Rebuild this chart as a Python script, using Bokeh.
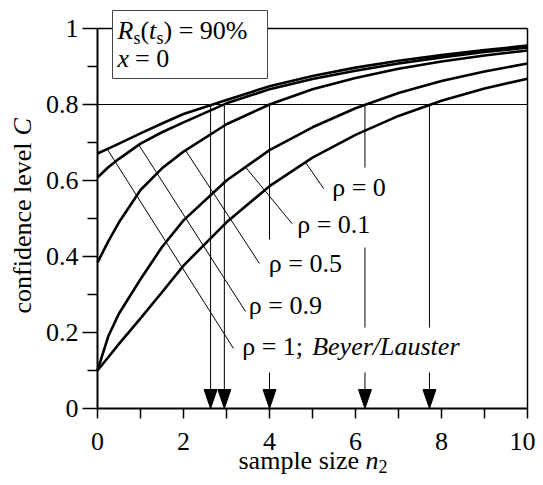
import numpy as np
from math import pi
from bokeh.plotting import figure
from bokeh.models import Range1d, FixedTicker, LinearAxis
from bokeh.embed import file_html
from bokeh.resources import INLINE
from bokeh.core.properties import value

# ---------------- data ----------------
n2 = [0, 0.25, 0.5, 1, 1.5, 2, 3, 4, 5, 6, 7, 8, 9, 10]
C_rho_1 = [0.671, 0.684, 0.697, 0.724, 0.750, 0.775, 0.812, 0.848, 0.875, 0.897, 0.915, 0.930, 0.943, 0.955]
C_rho_09 = [0.608, 0.635, 0.657, 0.697, 0.727, 0.753, 0.803, 0.840, 0.867, 0.889, 0.908, 0.924, 0.938, 0.950]
C_rho_05 = [0.384, 0.440, 0.490, 0.575, 0.632, 0.676, 0.748, 0.800, 0.840, 0.870, 0.894, 0.913, 0.929, 0.942]
C_rho_01 = [0.100, 0.190, 0.250, 0.340, 0.425, 0.495, 0.600, 0.680, 0.740, 0.790, 0.830, 0.862, 0.887, 0.908]
C_rho_0 = [0.100, 0.135, 0.170, 0.237, 0.306, 0.376, 0.490, 0.585, 0.660, 0.720, 0.770, 0.810, 0.842, 0.868]

C_target = 0.8
n2_required = [2.63, 2.95, 4.0, 6.22, 7.72]   # where the curves reach C = 0.8

curve_labels = ["ρ = 1;", "ρ = 0.9", "ρ = 0.5", "ρ = 0.1", "ρ = 0"]
x_ticks = [0, 2, 4, 6, 8, 10]
x_minor_ticks = [1, 3, 5, 7, 9]
y_ticks = [0, 0.2, 0.4, 0.6, 0.8, 1]
y_tick_labels = ["0", "0.2", "0.4", "0.6", "0.8", "1"]
y_minor_ticks = [0.1, 0.3, 0.5, 0.7, 0.9]

curves = [C_rho_1, C_rho_09, C_rho_05, C_rho_01, C_rho_0]

# ---------------- layout helpers (pixel positions of annotations) ----------------
X0, XS = 97.0, 43.0    # px of n2 = 0, px per unit
Y0, YS = 408.0, 380.0  # px of C = 0, px per unit
def X(px):
    return (px - X0) / XS
def Y(py):
    return (Y0 - py) / YS

FONT = "Liberation Serif"
FS = "26px"
FS_SUB = "18px"

W, H = 535, 477
p = figure(width=W, height=H, output_backend="svg", toolbar_location=None,
           x_range=Range1d(X(0), X(W)), y_range=Range1d(Y(H), Y(0)),
           min_border_left=0, min_border_right=0, min_border_top=0, min_border_bottom=0,
           x_axis_location=None, y_axis_location=None)
p.outline_line_color = None
p.xgrid.grid_line_color = None
p.ygrid.grid_line_color = None
p.background_fill_color = "white"
p.border_fill_color = "white"

# axes placed at n2 = 0 and C = 0 inside the (full-canvas) frame
xa = LinearAxis(fixed_location=0, ticker=FixedTicker(ticks=x_ticks, minor_ticks=x_minor_ticks), bounds=(0, 10))
ya = LinearAxis(fixed_location=0, ticker=FixedTicker(ticks=y_ticks, minor_ticks=y_minor_ticks), bounds=(0, 1))
ya.major_label_overrides = {t: s for t, s in zip(y_ticks, y_tick_labels)}
for ax in (xa, ya):
    ax.axis_line_width = 2
    ax.axis_line_color = "black"
    ax.major_tick_line_color = "black"
    ax.minor_tick_line_color = "black"
    ax.major_tick_line_width = 1.5
    ax.minor_tick_line_width = 1.5
    ax.major_tick_in = 0
    ax.minor_tick_in = 0
    ax.major_label_text_font = FONT
    ax.major_label_text_font_size = FS
    ax.major_label_text_color = "black"
xa.major_tick_out = 10
xa.minor_tick_out = 10
xa.major_label_standoff = 14
ya.major_tick_out = 15
ya.minor_tick_out = 10
ya.major_label_standoff = 4
p.add_layout(xa, "below")
p.add_layout(ya, "left")

# frame top/right
p.segment(x0=[0, 10], y0=[1, 0], x1=[10, 10], y1=[1, 1], line_color="black", line_width=1.5)
# target line C = 0.8
p.segment(x0=[0], y0=[C_target], x1=[10], y1=[C_target], line_color="black", line_width=1)

# curves
for c in curves:
    p.line(n2, c, line_color="black", line_width=2.6)

# drop lines with gaps for the labels, and arrow heads
ah_w = 6.5 / XS
ah_h = 19 / YS
drop_visible = [
    [(ah_h, C_target)],
    [(ah_h, C_target)],
    [(ah_h, Y(372)), (Y(239), C_target)],
    [(ah_h, Y(372)), (Y(327), Y(247)), (Y(167), C_target)],
    [(ah_h, Y(372)), (Y(327), C_target)],
]
sx, sy0, sy1 = [], [], []
for xr, parts in zip(n2_required, drop_visible):
    for a, b in parts:
        sx.append(xr); sy0.append(a); sy1.append(b)
p.segment(x0=sx, y0=sy0, x1=sx, y1=sy1, line_color="black", line_width=1)
p.patches(xs=[[xr - ah_w, xr + ah_w, xr] for xr in n2_required],
          ys=[[ah_h, ah_h, 0] for _ in n2_required],
          fill_color="black", line_color="black", line_width=1)

# leader lines from curves to labels
leader_start_x = [X(106.7), X(138.3), X(185), X(245), X(305)]
leader_end = [(X(233), Y(348)), (X(245), Y(311)), (X(259), Y(263)), (X(291.7), Y(223.3)), (X(323.3), Y(188.3))]
ly0 = [float(np.interp(x, n2, c)) for x, c in zip(leader_start_x, curves)]
p.segment(x0=leader_start_x, y0=ly0, x1=[e[0] for e in leader_end], y1=[e[1] for e in leader_end],
          line_color="black", line_width=1)

def txt(px, py, s, italic=False, size=FS, angle=0.0):
    p.text(x=[X(px)], y=[Y(py)], text=[s], text_font=value(FONT), text_font_size=size,
           text_font_style="italic" if italic else "normal", text_color="black",
           text_baseline="middle", text_align="left", angle=angle)

# curve labels (y = visual middle of the text)
label_pos = [(241.7, 345.5), (248.3, 305), (268.3, 262.5), (296.7, 224), (331.7, 186.5)]
for (lx, ly), s in zip(label_pos, curve_labels):
    txt(lx, ly, s)
txt(311.7, 345.5, "Beyer/Lauster", True)

# parameter box
p.quad(left=[X(112)], right=[X(267)], bottom=[Y(78)], top=[Y(10)],
       fill_color="white", line_color="#444444", line_width=1)
txt(117, 29.5, "R", True)
txt(133, 37, "s", False, FS_SUB)
txt(140, 29.5, "(")
txt(148.5, 29.5, "t", True)
txt(156, 37, "s", False, FS_SUB)
txt(163, 29.5, ") = 90%")
txt(117, 57.5, "x", True)
txt(134.5, 57.5, "= 0")

# axis titles (mixed upright / italic)
txt(238, 459.5, "sample size")
txt(365, 459.5, "n", True)
txt(378, 465.5, "2", False, FS_SUB)
txt(21.5, 313, "confidence level", angle=pi / 2)
txt(21.5, 135, "C", True, angle=pi / 2)

open("out.html", "w").write(file_html(p, INLINE))
